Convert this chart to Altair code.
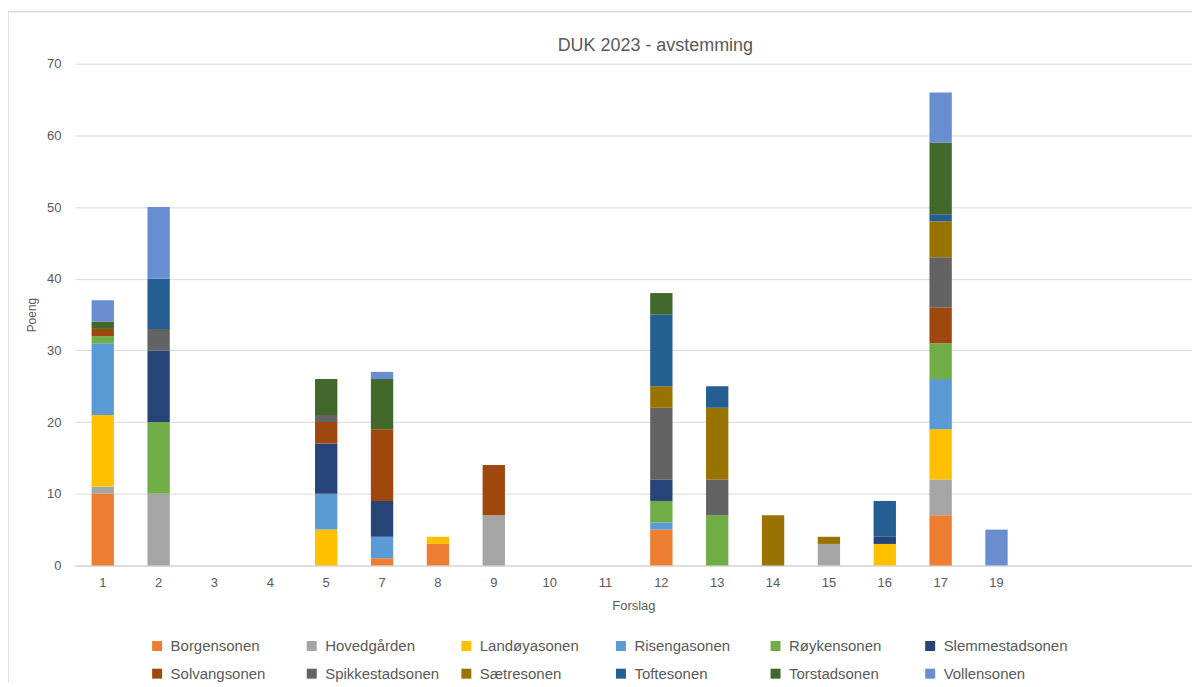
import altair as alt
import pandas as pd

forslag = ["1", "2", "3", "4", "5", "7", "8", "9", "10", "11", "12", "13", "14", "15", "16", "17", "19"]
tomme_plasser = ["_a", "_b", "_c"]

soner = ["Borgensonen", "Hovedgården", "Landøyasonen", "Risengasonen", "Røykensonen",
         "Slemmestadsonen", "Solvangsonen", "Spikkestadsonen", "Sætresonen",
         "Toftesonen", "Torstadsonen", "Vollensonen"]
farger = ["#ED7D31", "#A5A5A5", "#FFC000", "#5B9BD5", "#70AD47", "#264478",
          "#9E480E", "#636363", "#997300", "#255E91", "#43682B", "#698ED0"]

#                 1   2  3  4  5  7  8  9 10 11 12 13 14 15 16 17 19
borgensonen =     [10, 0, 0, 0, 0, 1, 3, 0, 0, 0, 5, 0, 0, 0, 0, 7, 0]
hovedgarden =     [1, 10, 0, 0, 0, 0, 0, 7, 0, 0, 0, 0, 0, 3, 0, 5, 0]
landoyasonen =    [10, 0, 0, 0, 5, 0, 1, 0, 0, 0, 0, 0, 0, 0, 3, 7, 0]
risengasonen =    [10, 0, 0, 0, 5, 3, 0, 0, 0, 0, 1, 0, 0, 0, 0, 7, 0]
roykensonen =     [1, 10, 0, 0, 0, 0, 0, 0, 0, 0, 3, 7, 0, 0, 0, 5, 0]
slemmestadsonen = [0, 10, 0, 0, 7, 5, 0, 0, 0, 0, 3, 0, 0, 0, 1, 0, 0]
solvangsonen =    [1, 0, 0, 0, 3, 10, 0, 7, 0, 0, 0, 0, 0, 0, 0, 5, 0]
spikkestadsonen = [0, 3, 0, 0, 1, 0, 0, 0, 0, 0, 10, 5, 0, 0, 0, 7, 0]
saetresonen =     [0, 0, 0, 0, 0, 0, 0, 0, 0, 0, 3, 10, 7, 1, 0, 5, 0]
toftesonen =      [0, 7, 0, 0, 0, 0, 0, 0, 0, 0, 10, 3, 0, 0, 5, 1, 0]
torstadsonen =    [1, 0, 0, 0, 5, 7, 0, 0, 0, 0, 3, 0, 0, 0, 0, 10, 0]
vollensonen =     [3, 10, 0, 0, 0, 1, 0, 0, 0, 0, 0, 0, 0, 0, 0, 7, 5]

serier = [borgensonen, hovedgarden, landoyasonen, risengasonen, roykensonen,
          slemmestadsonen, solvangsonen, spikkestadsonen, saetresonen,
          toftesonen, torstadsonen, vollensonen]

rows = []
for idx, (sone, verdier) in enumerate(zip(soner, serier)):
    for f, v in zip(forslag, verdier):
        if v > 0:
            rows.append({"Forslag": f, "Sone": sone, "Poeng": v, "idx": idx})
df = pd.DataFrame(rows)

FONT = "Liberation Sans"
GREY = "#595959"

bars = alt.Chart(df).mark_bar(strokeWidth=0).encode(
    x=alt.X("Forslag:N",
            scale=alt.Scale(domain=forslag + tomme_plasser, paddingInner=0.6, paddingOuter=0.3),
            axis=alt.Axis(title="Forslag", labelAngle=0, ticks=False,
                          labelExpr="indexof(datum.value, '_') == 0 ? '' : datum.label",
                          domainColor="#d9d9d9", domainWidth=1.5,
                          labelPadding=11, labelFontSize=13, labelColor=GREY,
                          titleFontSize=13, titleFontWeight="normal", titleColor=GREY,
                          titlePadding=10, labelFont=FONT, titleFont=FONT)),
    y=alt.Y("Poeng:Q", stack="zero",
            scale=alt.Scale(domain=[0, 70], nice=False),
            axis=alt.Axis(title="Poeng", values=list(range(0, 71, 10)), ticks=False,
                          domain=False, gridColor="#d9d9d9", labelPadding=14,
                          labelFontSize=13, labelColor=GREY, titleFontSize=12,
                          titleFontWeight="normal", titleColor=GREY, titlePadding=8,
                          labelFont=FONT, titleFont=FONT)),
    color=alt.Color("Sone:N",
                    scale=alt.Scale(domain=soner, range=farger),
                    legend=alt.Legend(title=None, orient="none", legendX=75, legendY=576,
                                      direction="horizontal", columns=6, symbolType="square",
                                      symbolSize=100, symbolStrokeWidth=0,
                                      labelFontSize=15, labelColor=GREY, labelFont=FONT,
                                      gridAlign="all", columnPadding=9, rowPadding=12,
                                      padding=0, labelOffset=6)),
    order=alt.Order("idx:Q", sort="ascending"),
)

border = alt.Chart(alt.Data(values=[{}])).mark_rect(
    filled=False, stroke="#d9d9d9", strokeWidth=1.5
).encode(
    x=alt.value(-67), x2=alt.value(1140), y=alt.value(-52), y2=alt.value(700)
)

chart = alt.layer(border, bars).properties(
    width=1120,
    height=503,
    padding={"left": 67, "top": 55, "right": 0, "bottom": 117},
    autosize=alt.AutoSizeParams(type="none"),
    title=alt.TitleParams("DUK 2023 - avstemming", fontSize=18, fontWeight="normal",
                          color=GREY, font=FONT, offset=-44, dx=22, frame="group"),
).configure_view(stroke=None)

chart.save("out.html", embed_options={"renderer": "svg", "actions": False})
